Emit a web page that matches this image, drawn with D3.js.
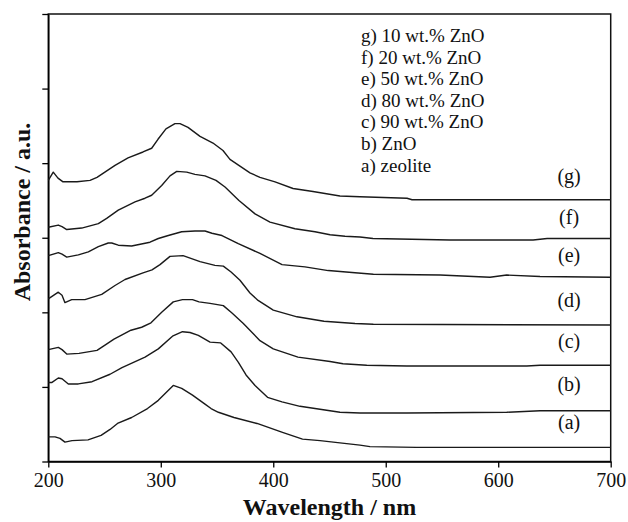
<!DOCTYPE html>
<html>
<head>
<meta charset="utf-8">
<script src="https://cdn.jsdelivr.net/npm/d3@7"></script>
<style>
  body { margin: 0; background: #fff; }
  svg text { font-family: "Liberation Serif", "Times New Roman", serif; fill: #111; }
</style>
</head>
<body>
<div id="vis"></div>
<script>
const svgWidth = 628,
  svgHeight = 522,
  plotLeft = 48.3,
  plotRight = 610.7,
  plotTop = 14,
  plotBottom = 461.5;

// [wavelength nm, absorbance a.u.], offset as stacked in the figure
const zeolite = [[200,0.33],[206,0.33],[210.4,0.31],[214.8,0.26],[221.1,0.28],[235.3,0.29],[246.9,0.35],[254.9,0.43],[261.5,0.51],[274.1,0.59],[288.2,0.71],[297.8,0.82],[311.1,1.02],[318.6,0.98],[328.2,0.89],[339.3,0.77],[344.7,0.71],[351.2,0.66],[365.1,0.59],[385.6,0.51],[408.2,0.39],[426,0.3],[441.6,0.28],[459.3,0.25],[477.1,0.22],[486,0.2],[527.5,0.19],[700,0.19]];
const zno = [[200,1.06],[203.3,1.06],[208.9,1.12],[212.2,1.11],[217.8,1.04],[226.7,1.04],[238.9,1.07],[254.9,1.17],[265.5,1.26],[286,1.4],[297.8,1.51],[310.4,1.68],[319.3,1.74],[326,1.73],[333.4,1.69],[343.8,1.6],[353.3,1.59],[362.5,1.47],[369,1.33],[375.8,1.16],[383.8,1.02],[394.9,0.86],[407.8,0.8],[423.8,0.74],[446,0.69],[459.3,0.66],[477.1,0.65],[518.7,0.65],[607.6,0.66],[637.2,0.68],[700,0.68]];
const zno90 = [[200,1.5],[208.9,1.53],[212.2,1.5],[216.4,1.44],[227.3,1.45],[243.3,1.49],[250.4,1.56],[258.4,1.64],[273.5,1.76],[283,1.8],[291.3,1.86],[300.8,2],[311.1,2.14],[319.3,2.17],[328.2,2.17],[334,2.14],[343.8,2.12],[355.6,2.09],[363.3,1.99],[373.4,1.85],[388.2,1.62],[400,1.51],[422,1.4],[450.5,1.34],[462,1.31],[483.1,1.29],[518.7,1.28],[625.4,1.28],[637.2,1.29],[700,1.29]];
const zno80 = [[200,2.18],[208.9,2.27],[212.2,2.23],[214.8,2.13],[220.8,2.17],[232.6,2.17],[247.5,2.24],[259.3,2.36],[268.2,2.44],[284.2,2.53],[292.2,2.57],[299.3,2.64],[308.2,2.75],[319.8,2.76],[334.9,2.68],[348.2,2.63],[355.6,2.62],[362.5,2.54],[370.4,2.43],[379.3,2.26],[386.5,2.16],[400,2.03],[421.1,1.94],[445.1,1.88],[472.7,1.85],[489,1.84],[700,1.83]];
const zno50 = [[200,2.76],[208.9,2.8],[212.2,2.78],[216.4,2.74],[226.7,2.77],[235.6,2.81],[244.5,2.88],[253.3,2.93],[256.4,2.93],[262.2,2.9],[274.1,2.89],[290.4,2.94],[297.8,2.99],[306.7,3.03],[318.6,3.08],[330.4,3.09],[339.3,3.09],[345.5,3.06],[354.4,3.03],[368.9,2.92],[388.2,2.79],[407.8,2.64],[428.2,2.61],[448.9,2.56],[472.7,2.53],[489,2.51],[548.3,2.5],[592.7,2.47],[607.6,2.5],[637.2,2.48],[700,2.47]];
const zno20 = [[200,3.14],[208.9,3.17],[212.2,3.15],[216.4,3.11],[229.7,3.13],[244.5,3.19],[251.9,3.26],[262.2,3.37],[277.1,3.48],[286,3.53],[291.9,3.57],[300.8,3.7],[308.2,3.83],[314.2,3.89],[323.1,3.88],[330.4,3.85],[339.3,3.83],[349.1,3.77],[357.1,3.68],[369.5,3.5],[383.8,3.32],[397.1,3.21],[419.3,3.12],[437.1,3.08],[450.5,3.04],[463.8,3.02],[477.1,3.01],[488.7,2.99],[557.2,2.97],[631,2.97],[643.5,2.99],[700,2.99]];
const zno10 = [[200,3.77],[204.4,3.88],[208.6,3.8],[213.1,3.75],[225.5,3.75],[237.1,3.77],[243.3,3.81],[251.3,3.89],[259.3,3.97],[270.9,4.07],[284.2,4.15],[291.9,4.2],[297.5,4.32],[304.6,4.46],[312.6,4.53],[317.1,4.53],[324.2,4.48],[334.9,4.36],[346.4,4.27],[355.3,4.17],[361.5,4.05],[370.4,3.96],[379.3,3.87],[388.2,3.81],[401.6,3.75],[417.6,3.66],[435.3,3.62],[459.3,3.56],[477.1,3.55],[518.9,3.53],[523.4,3.51],[700,3.51]];

const series = [zeolite, zno, zno90, zno80, zno50, zno20, zno10];
const curveLabels = ["(a)", "(b)", "(c)", "(d)", "(e)", "(f)", "(g)"];
const labelLevels = [0.43, 0.95, 1.52, 2.07, 2.68, 3.18, 3.73];
const legendItems = ["g) 10 wt.% ZnO", "f) 20 wt.% ZnO", "e) 50 wt.% ZnO", "d) 80 wt.% ZnO", "c) 90 wt.% ZnO", "b) ZnO", "a) zeolite"];
const xTicks = [200, 300, 400, 500, 600, 700];
const yTicks = [0, 1, 2, 3, 4, 5, 6];

const svg = d3
  .select("#vis")
  .append("svg")
  .attr("width", svgWidth)
  .attr("height", svgHeight);

const x = d3.scaleLinear().domain([200, 700]).range([plotLeft, plotRight]);
const y = d3.scaleLinear().domain([0, 6]).range([plotBottom, plotTop]);

// frame
svg
  .append("rect")
  .attr("x", plotLeft)
  .attr("y", plotTop)
  .attr("width", plotRight - plotLeft)
  .attr("height", plotBottom - plotTop)
  .attr("fill", "none")
  .attr("stroke", "#111")
  .attr("stroke-width", 1.5);

const xAxis = svg
  .append("g")
  .attr("transform", `translate(0,${plotBottom})`)
  .call(d3.axisBottom(x).tickValues(xTicks).tickSize(6).tickSizeOuter(0).tickPadding(5));
xAxis.select(".domain").attr("stroke-width", 1.5);
xAxis.selectAll(".tick line").attr("stroke-width", 1.3);
xAxis.selectAll("text").style("font-size", "20px").attr("fill", "#111");

const yAxis = svg
  .append("g")
  .attr("transform", `translate(${plotLeft},0)`)
  .call(d3.axisLeft(y).tickValues(yTicks).tickSize(6).tickSizeOuter(0).tickFormat(""));
yAxis.select(".domain").attr("stroke-width", 1.5);
yAxis.selectAll(".tick line").attr("stroke-width", 1.3);

const line = d3
  .line()
  .x((d) => x(d[0]))
  .y((d) => y(d[1]));

svg
  .selectAll("path.curve")
  .data(series)
  .enter()
  .append("path")
  .attr("class", "curve")
  .attr("d", line)
  .attr("fill", "none")
  .attr("stroke", "#1a1a1a")
  .attr("stroke-width", 1.4)
  .attr("stroke-linejoin", "round");

svg
  .selectAll("text.clabel")
  .data(curveLabels)
  .enter()
  .append("text")
  .attr("class", "clabel")
  .attr("x", x(663))
  .attr("y", (d, i) => y(labelLevels[i]))
  .attr("text-anchor", "middle")
  .style("font-size", "20px")
  .text((d) => d);

svg
  .selectAll("text.legend")
  .data(legendItems)
  .enter()
  .append("text")
  .attr("class", "legend")
  .attr("x", 361)
  .attr("y", (d, i) => 42 + i * 21.6)
  .style("font-size", "19px")
  .text((d) => d);

svg
  .append("text")
  .attr("x", (plotLeft + plotRight) / 2)
  .attr("y", 515)
  .attr("text-anchor", "middle")
  .style("font-size", "24px")
  .style("font-weight", "bold")
  .text("Wavelength / nm");

svg
  .append("text")
  .attr("transform", `translate(30,212) rotate(-90)`)
  .attr("text-anchor", "middle")
  .style("font-size", "24px")
  .style("font-weight", "bold")
  .text("Absorbance / a.u.");
</script>
</body>
</html>
